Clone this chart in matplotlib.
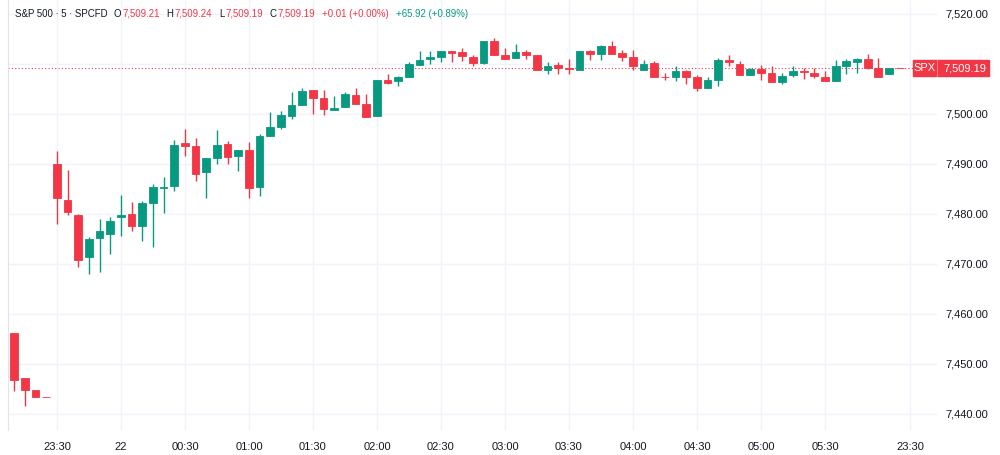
"""
S&P 500 CFD, 5-minute candles (TradingView-style snapshot).
Output: out.png
"""
import matplotlib
matplotlib.use("Agg")
import matplotlib.pyplot as plt
from matplotlib.patches import Rectangle
import numpy as np

plt.rcParams["font.family"] = ["Liberation Sans", "DejaVu Sans"]

GREEN = "#089981"
RED = "#f23645"
TEXT = "#131722"
GRID = "#f0f3fa"

# 5-min bars, index 0 = 23:10 (bars 0-3 belong to the previous session)
opens = [7456.1, 7447.1, 7444.8, 7443.45, 7489.9, 7482.7, 7479.7, 7471.3, 7475.1, 7476.0,
         7479.3, 7479.9, 7477.5, 7482.1, 7485.2, 7485.5, 7494.2, 7493.6, 7488.3, 7491.1,
         7494.0, 7491.5, 7492.7, 7485.3, 7495.6, 7497.3, 7499.6, 7501.7, 7504.8, 7503.1,
         7500.7, 7501.3, 7503.7, 7502.0, 7499.5, 7506.7, 7506.5, 7507.3, 7509.7, 7510.9,
         7511.3, 7512.5, 7512.3, 7511.3, 7510.1, 7514.6, 7511.8, 7511.1, 7512.4, 7511.8,
         7508.7, 7509.7, 7509.1, 7508.8, 7512.5, 7511.9, 7513.5, 7512.1, 7511.3, 7508.7,
         7510.1, 7507.4, 7507.3, 7508.5, 7507.3, 7505.1, 7506.8, 7510.8, 7510.0, 7507.7,
         7508.9, 7508.1, 7506.3, 7507.7, 7508.5, 7508.1, 7507.3, 7506.5, 7509.6, 7510.4,
         7510.9, 7509.1, 7507.9, 7509.21]
highs = [7456.1, 7447.1, 7444.8, 7443.45, 7492.5, 7488.8, 7480.0, 7475.3, 7478.9, 7479.3,
         7483.8, 7482.3, 7482.6, 7486.0, 7487.3, 7494.8, 7496.9, 7495.1, 7491.1, 7496.8,
         7494.6, 7492.7, 7494.3, 7496.0, 7500.3, 7500.5, 7504.3, 7505.1, 7504.8, 7504.8,
         7503.5, 7504.3, 7505.1, 7503.9, 7506.7, 7508.0, 7507.6, 7510.3, 7512.6, 7512.6,
         7512.6, 7512.6, 7513.1, 7511.8, 7514.6, 7515.1, 7513.1, 7513.9, 7512.7, 7511.8,
         7510.3, 7510.3, 7510.9, 7512.5, 7512.7, 7513.8, 7514.5, 7512.7, 7512.7, 7510.8,
         7510.5, 7508.1, 7509.6, 7508.8, 7507.8, 7507.3, 7511.1, 7511.8, 7510.5, 7509.1,
         7509.8, 7509.5, 7508.1, 7509.5, 7509.1, 7509.1, 7508.5, 7510.8, 7510.9, 7511.1,
         7511.9, 7511.1, 7509.1, 7509.24]
lows = [7444.5, 7441.5, 7443.3, 7443.4, 7478.0, 7479.8, 7469.3, 7468.0, 7468.3, 7472.0,
        7475.5, 7476.5, 7474.5, 7473.3, 7480.1, 7484.5, 7491.6, 7486.6, 7483.1, 7489.9,
        7490.0, 7488.5, 7483.1, 7483.6, 7495.6, 7496.9, 7498.9, 7501.7, 7499.9, 7499.7,
        7500.7, 7501.3, 7501.9, 7499.3, 7499.5, 7506.0, 7505.5, 7507.3, 7509.7, 7509.9,
        7510.3, 7510.4, 7510.5, 7509.6, 7510.0, 7511.7, 7511.0, 7511.1, 7511.0, 7508.7,
        7508.0, 7507.9, 7507.9, 7508.8, 7510.7, 7510.7, 7512.0, 7510.5, 7508.8, 7508.7,
        7507.3, 7506.7, 7506.5, 7506.0, 7504.6, 7505.1, 7505.6, 7509.5, 7507.7, 7507.7,
        7506.7, 7506.3, 7505.9, 7507.3, 7506.9, 7507.1, 7506.5, 7506.5, 7507.9, 7508.1,
        7508.9, 7507.3, 7507.9, 7509.19]
closes = [7446.8, 7444.8, 7443.3, 7443.4, 7483.1, 7480.3, 7470.7, 7474.9, 7476.5, 7478.6,
          7479.8, 7477.6, 7482.1, 7485.3, 7485.4, 7493.7, 7493.5, 7488.0, 7491.1, 7493.8,
          7491.3, 7492.7, 7485.1, 7495.5, 7497.3, 7499.7, 7501.7, 7504.6, 7503.2, 7500.9,
          7501.1, 7503.9, 7501.9, 7499.4, 7506.7, 7506.2, 7507.3, 7509.9, 7510.8, 7511.3,
          7512.6, 7512.1, 7511.5, 7510.1, 7514.6, 7511.7, 7511.0, 7512.4, 7511.7, 7508.7,
          7509.5, 7509.2, 7508.9, 7512.5, 7511.9, 7513.6, 7512.0, 7511.4, 7509.6, 7509.9,
          7507.3, 7507.3, 7508.5, 7507.3, 7505.1, 7506.8, 7510.8, 7510.3, 7507.7, 7508.9,
          7508.1, 7506.3, 7507.6, 7508.5, 7508.3, 7507.6, 7506.5, 7509.5, 7510.5, 7510.9,
          7509.1, 7507.3, 7509.1, 7509.19]

tick_pos = [4, 10, 16, 22, 28, 34, 40, 46, 52, 58, 64, 70, 76, 84]
tick_labels = ["23:30", "22", "00:30", "01:00", "01:30", "02:00", "02:30", "03:00",
               "03:30", "04:00", "04:30", "05:00", "05:30", "23:30"]
price_ticks = [7440, 7450, 7460, 7470, 7480, 7490, 7500, 7510, 7520]

o = np.array(opens)
h = np.array(highs)
l = np.array(lows)
c = np.array(closes)
x = np.arange(len(o))
colors = np.where(c >= o, GREEN, RED)

fig = plt.figure(figsize=(10, 4.55), dpi=100)
ax = fig.add_axes([0.008, 0.055, 0.929, 0.945])

ax.vlines(x, l, h, colors=colors, linewidth=1, zorder=3)
body_bottom = np.minimum(o, c)
body_height = np.abs(c - o)
ax.bar(x, body_height, width=0.72, bottom=body_bottom, color=colors,
       edgecolor=colors, linewidth=0.6, zorder=4)

last = closes[-1]
ax.axhline(last, color=RED, linestyle=(0, (1, 2)), linewidth=0.8, zorder=2)

ax.set_xlim(-0.59, 86.5)
ax.set_ylim(7436.8, 7522.8)

ax.set_xticks(tick_pos)
ax.set_xticklabels(tick_labels)
ax.set_yticks(price_ticks)
# the 7,510 label sits under the last-price box
ax.set_yticklabels(["" if p == 7510 else f"{p:,.2f}" for p in price_ticks])
ax.yaxis.tick_right()
ax.tick_params(axis="both", length=0, labelsize=8, colors=TEXT)
ax.tick_params(axis="y", pad=6)
ax.tick_params(axis="x", pad=9)
ax.grid(True, color=GRID, linewidth=1, zorder=0)
ax.set_axisbelow(True)
for side in ["top", "right", "bottom"]:
    ax.spines[side].set_visible(False)
ax.spines["left"].set_color("#e0e3eb")
ax.spines["left"].set_linewidth(0.8)

# header line, laid out piece by piece: (text, colour, gap after in px)
header = [
    ("S&P 500 · 5 · SPCFD", TEXT, 6),
    ("O", TEXT, 1), ("7,509.21", RED, 7),
    ("H", TEXT, 1), ("7,509.24", RED, 7),
    ("L", TEXT, 1), ("7,509.19", RED, 7),
    ("C", TEXT, 1), ("7,509.19", RED, 7),
    ("+0.01 (+0.00%)", RED, 7),
    ("+65.92 (+0.89%)", GREEN, 0),
]
fig.canvas.draw()
renderer = fig.canvas.get_renderer()
px = 15.0
for s, col, gap in header:
    t = fig.text(px / 1000, 1 - 14 / 455, s, color=col, fontsize=6.9,
                 ha="left", va="center")
    px += t.get_window_extent(renderer).width + gap

# last price label box
ypix = ax.transData.transform((0, last))[1]
yfig = ypix / fig.bbox.height
bh = 16 / 455
fig.patches.append(Rectangle((913 / 1000, yfig - bh / 2), 76 / 1000, bh,
                             transform=fig.transFigure, color=RED, zorder=10))
fig.lines.append(plt.Line2D([937 / 1000, 937 / 1000], [yfig - bh / 2, yfig + bh / 2],
                            transform=fig.transFigure, color="#f77c88", linewidth=0.8,
                            zorder=11))
fig.text(925 / 1000, yfig, "SPX", color="white", fontsize=8, ha="center",
         va="center", zorder=12)
fig.text(943 / 1000, yfig, f"{last:,.2f}", color="white", fontsize=8, ha="left",
         va="center", zorder=12)

fig.savefig("out.png", dpi=100)
plt.close(fig)
print("Saved out.png")
